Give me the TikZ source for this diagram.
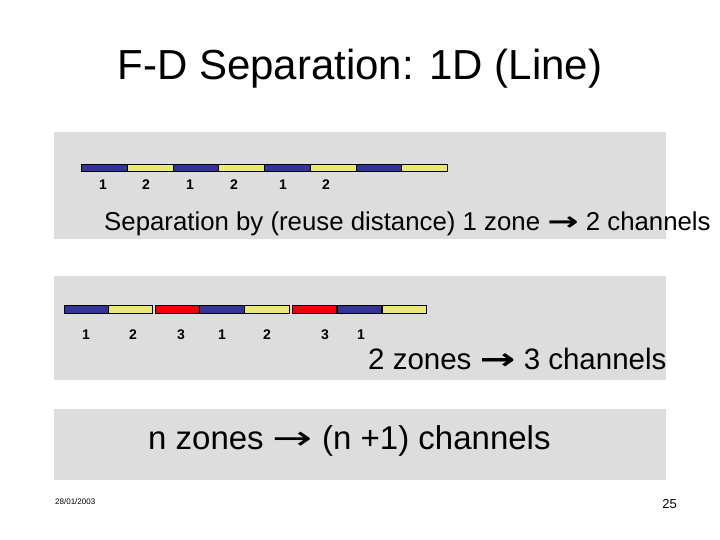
\documentclass[tikz,border=0pt]{standalone}
\usepackage{fontspec}
\setmainfont{Liberation Sans}
\newfontfamily\arrowfont{DejaVu Sans}
\usetikzlibrary{positioning}

\definecolor{zoneblue}{RGB}{51,51,153}
\definecolor{zoneyellow}{RGB}{234,234,112}
\definecolor{zonered}{RGB}{240,0,0}
\definecolor{panelgray}{RGB}{221,221,221}

\newcommand{\boldto}{\scalebox{1.45}[1]{\arrowfont\bfseries →}}
\newcommand{\thinto}{\scalebox{1.45}[1]{\arrowfont →}}

\tikzset{
  panel/.style={fill=panelgray},
  seg/.style={draw=black, line width=0.8pt},
  chan/.style={font=\fontsize{14}{14}\selectfont\bfseries, inner sep=0pt, anchor=base},
  say/.style={inner sep=0pt, anchor=base west},
}

\begin{document}
\begin{tikzpicture}[x=1pt,y=-1pt]
\useasboundingbox[fill=white] (0,0) rectangle (720,540);
\def\segA{45.7}
\def\segB{44.5}

\node[inner sep=0pt, anchor=base, font=\fontsize{42}{42}\selectfont] (title) at (360,80) {F-D Separation: 1D (Line)};

\fill[panel] (54,132) rectangle (666,239);
\fill[panel] (54,276) rectangle (666,380);
\fill[panel] (54,409) rectangle (666,480);

\foreach \c [count=\i from 0] in {zoneblue,zoneyellow,zoneblue,zoneyellow,zoneblue,zoneyellow,zoneblue,zoneyellow}
  \filldraw[seg, fill=\c] ({81.7+\i*\segA},164.3) rectangle ++(\segA,7.4);

\foreach \x/\t [count=\k] in {103/1,146/2,190/1,234/2,283/1,326/2}
  \node[chan] (lineA-\k) at (\x,190) {\t};

\node[say, font=\fontsize{25.8}{26}\selectfont] (reuse) at (104,230)
  {Separation by (reuse distance) 1 zone \boldto{} 2 channels};

\foreach \x/\c in {64/zoneblue,108.3/zoneyellow,155.5/zonered,199.5/zoneblue,244.5/zoneyellow,292/zonered,337/zoneblue,382/zoneyellow}
  \filldraw[seg, fill=\c] (\x,305.7) rectangle ++(\segB,7.6);

\foreach \x/\t [count=\k] in {86/1,133/2,181/3,222/1,267/2,325/3,361/1}
  \node[chan] (lineB-\k) at (\x,339) {\t};

\node[say, font=\fontsize{29.5}{30}\selectfont] (twozones) at (368,369)
  {2 zones \boldto{} 3 channels};

\node[say, font=\fontsize{33}{34}\selectfont] (nzones) at (148,449)
  {n zones \thinto{} (n +1) channels};

\node[say, font=\fontsize{8}{8}\selectfont] (date) at (55,504) {28/01/2003};
\node[inner sep=0pt, anchor=base east, font=\fontsize{13}{13}\selectfont] (page) at (677,508) {25};
\end{tikzpicture}
\end{document}
